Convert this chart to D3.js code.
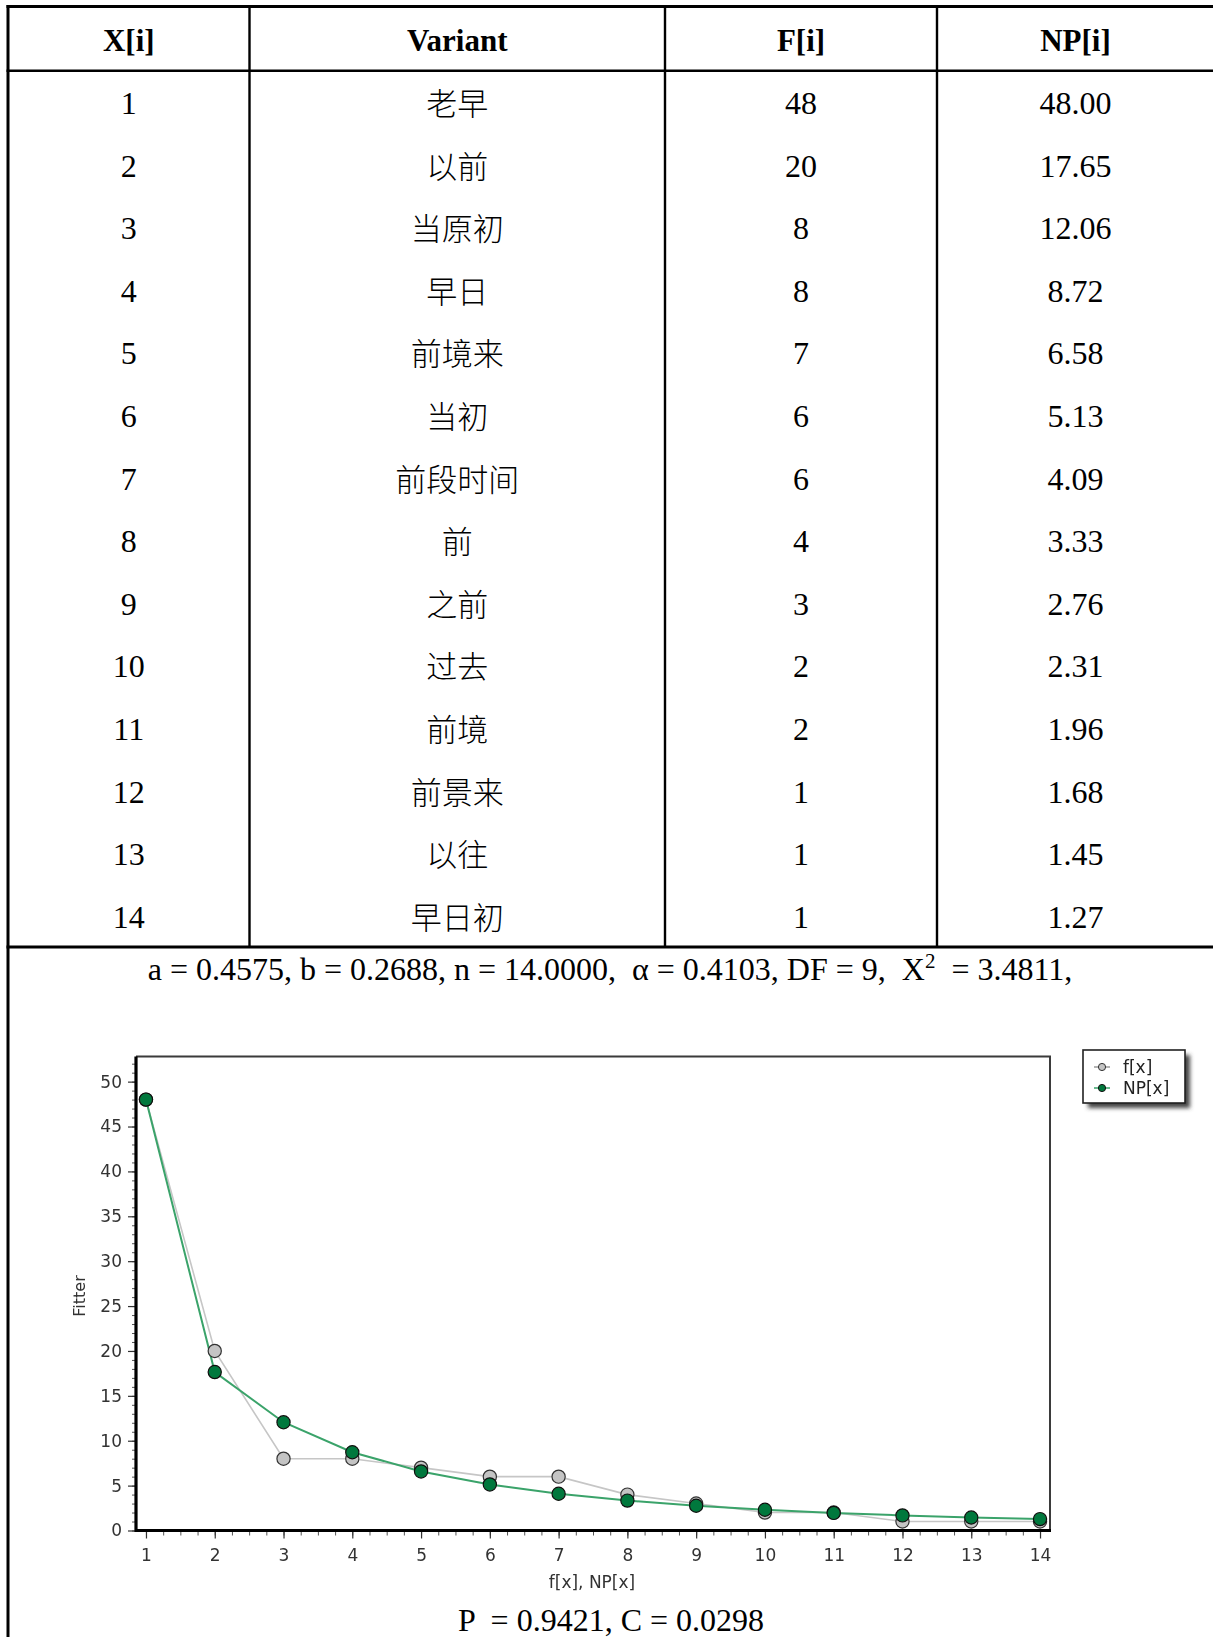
<!DOCTYPE html>
<html>
<head>
<meta charset="utf-8">
<script src="https://cdn.jsdelivr.net/npm/d3@7"></script>
<style>
  body { margin: 0; background: #fff; }
  svg { display: block; }
</style>
</head>
<body>
<svg id="fig" width="1213" height="1637"></svg>
<script>
// ---- data ----
const headers   = ["X[i]", "Variant", "F[i]", "NP[i]"];
const ranks     = [1, 2, 3, 4, 5, 6, 7, 8, 9, 10, 11, 12, 13, 14];
const variants  = ["老早", "以前", "当原初", "早日", "前境来", "当初", "前段时间", "前", "之前", "过去", "前境", "前景来", "以往", "早日初"];
const observed  = [48, 20, 8, 8, 7, 6, 6, 4, 3, 2, 2, 1, 1, 1];
const predicted = [48.00, 17.65, 12.06, 8.72, 6.58, 5.13, 4.09, 3.33, 2.76, 2.31, 1.96, 1.68, 1.45, 1.27];
const fitLine   = ["a = 0.4575, b = 0.2688, n = 14.0000,  α = 0.4103, DF = 9,  X", "2", "  = 3.4811,"];
const fitResult = "P  = 0.9421, C = 0.0298";
const yTicks    = [0, 5, 10, 15, 20, 25, 30, 35, 40, 45, 50];
const xTicks    = [1, 2, 3, 4, 5, 6, 7, 8, 9, 10, 11, 12, 13, 14];
const legendLabels = ["f[x]", "NP[x]"];
const xTitle = "f[x], NP[x]";
const yTitle = "Fitter";

const svg = d3.select("#fig");
const SERIF = "'Liberation Serif', 'Times New Roman', serif";
const CJK = "'Noto Sans CJK SC', sans-serif";
const SANS = "'DejaVu Sans', Verdana, sans-serif";

// ---- table ----
const colEdges = [8, 249.5, 665, 937, 1214];
const tableTop = 6.5, headBottom = 70.7, tableBottom = 947;
const rowY = d3.scaleBand().domain(ranks).range([headBottom, tableBottom]);
const colCenter = i => (colEdges[i] + colEdges[i + 1]) / 2;

const grid = svg.append("g").attr("stroke", "#000").attr("fill", "none");
// outer frame (continues down past the chart)
grid.append("line").attr("x1", 8).attr("x2", 8).attr("y1", tableTop - 1.5).attr("y2", 1640).attr("stroke-width", 3);
grid.append("line").attr("x1", 6.5).attr("x2", 1215).attr("y1", tableTop).attr("y2", tableTop).attr("stroke-width", 3);
grid.append("line").attr("x1", 6.5).attr("x2", 1215).attr("y1", headBottom).attr("y2", headBottom).attr("stroke-width", 2.6);
grid.append("line").attr("x1", 6.5).attr("x2", 1215).attr("y1", tableBottom).attr("y2", tableBottom).attr("stroke-width", 3);
colEdges.slice(1, 4).forEach(x => {
  grid.append("line").attr("x1", x).attr("x2", x).attr("y1", tableTop).attr("y2", tableBottom).attr("stroke-width", 2.4);
});

// header
svg.append("g").selectAll("text").data(headers).join("text")
  .attr("x", (d, i) => colCenter(i))
  .attr("y", (tableTop + headBottom) / 2 + 12)
  .attr("text-anchor", "middle")
  .style("font-family", SERIF).style("font-weight", "bold").style("font-size", "31px")
  .text(d => d);

// body rows
const rows = svg.append("g").selectAll("g").data(ranks).join("g")
  .attr("transform", d => `translate(0,${rowY(d) + rowY.bandwidth() / 2})`);
rows.append("text").attr("x", colCenter(0)).attr("y", 12).attr("text-anchor", "middle")
  .style("font-family", SERIF).style("font-size", "32px").text(d => d);
rows.append("text").attr("x", colCenter(1)).attr("y", 13).attr("text-anchor", "middle")
  .style("font-family", CJK).style("font-weight", 300).style("font-size", "31px")
  .text((d, i) => variants[i]);
rows.append("text").attr("x", colCenter(2)).attr("y", 12).attr("text-anchor", "middle")
  .style("font-family", SERIF).style("font-size", "32px").text((d, i) => observed[i]);
rows.append("text").attr("x", colCenter(3)).attr("y", 12).attr("text-anchor", "middle")
  .style("font-family", SERIF).style("font-size", "32px").text((d, i) => predicted[i].toFixed(2));

// fit parameters
const fit = svg.append("text").attr("x", 610).attr("y", 980).attr("text-anchor", "middle")
  .style("font-family", SERIF).style("font-size", "32px").style("white-space", "pre");
fit.append("tspan").text(fitLine[0]);
fit.append("tspan").attr("dy", -12).style("font-size", "21px").text(fitLine[1]);
fit.append("tspan").attr("dy", 12).text(fitLine[2]);

svg.append("text").attr("x", 611).attr("y", 1631).attr("text-anchor", "middle")
  .style("font-family", SERIF).style("font-size", "32px").style("white-space", "pre")
  .text(fitResult);

// ---- chart ----
const defs = svg.append("defs");
defs.append("filter").attr("id", "soft").append("feGaussianBlur").attr("stdDeviation", 0.45);
defs.append("filter").attr("id", "shadow").attr("x", "-20%").attr("y", "-20%").attr("width", "140%").attr("height", "140%")
  .append("feGaussianBlur").attr("stdDeviation", 2);

const plot = { left: 136, right: 1050, top: 1056.5, bottom: 1530.5 };
const x = d3.scaleLinear().domain([0.855, 14.145]).range([plot.left, plot.right]);
const y = d3.scaleLinear().domain([0, 52.8]).range([plot.bottom, plot.top]);

const chart = svg.append("g").attr("filter", "url(#soft)");

// top / right frame
chart.append("path")
  .attr("d", `M${plot.left},${plot.top}H${plot.right}V${plot.bottom}`)
  .attr("fill", "none").attr("stroke", "#3a3a3a").attr("stroke-width", 2);

// minor ticks
chart.append("g").attr("transform", `translate(${plot.left},0)`)
  .call(d3.axisLeft(y).tickValues(d3.range(0, 53, 1)).tickSize(4).tickFormat(""))
  .call(g => g.select(".domain").remove())
  .call(g => g.selectAll("line").attr("stroke", "#555"));
chart.append("g").attr("transform", `translate(0,${plot.bottom})`)
  .call(d3.axisBottom(x).tickValues(d3.range(1, 14.01, 0.25)).tickSize(5).tickFormat(""))
  .call(g => g.select(".domain").remove())
  .call(g => g.selectAll("line").attr("stroke", "#555"));

// major ticks + labels
const yAxis = chart.append("g").attr("transform", `translate(${plot.left},0)`)
  .call(d3.axisLeft(y).tickValues(yTicks).tickSize(8).tickPadding(6))
  .call(g => g.select(".domain").remove());
yAxis.selectAll("line").attr("stroke", "#333").attr("stroke-width", 1.2);
yAxis.selectAll("text").style("font-family", SANS).style("font-size", "17px").attr("fill", "#333");

const xAxis = chart.append("g").attr("transform", `translate(0,${plot.bottom})`)
  .call(d3.axisBottom(x).tickValues(xTicks).tickSize(8).tickPadding(10))
  .call(g => g.select(".domain").remove());
xAxis.selectAll("line").attr("stroke", "#333").attr("stroke-width", 1.2);
xAxis.selectAll("text").style("font-family", SANS).style("font-size", "17px").attr("fill", "#333");

// thick left / bottom axis lines
chart.append("path")
  .attr("d", `M${plot.left},${plot.top}V${plot.bottom}H${plot.right + 1}`)
  .attr("fill", "none").attr("stroke", "#000").attr("stroke-width", 3.2);

// axis titles
chart.append("text").attr("x", 592).attr("y", 1588).attr("text-anchor", "middle")
  .style("font-family", SANS).style("font-size", "17px").attr("fill", "#333").text(xTitle);
chart.append("text").attr("transform", "translate(85,1296) rotate(-90)").attr("text-anchor", "middle")
  .style("font-family", SANS).style("font-size", "16px").attr("fill", "#333").text(yTitle);

// series
const series = [
  { values: observed,  line: "#c6c6c6", lineWidth: 1.6, fill: "#c4c4c4", stroke: "#333" },
  { values: predicted, line: "#3aa36a", lineWidth: 2,   fill: "#06783c", stroke: "#111" }
];
const lineGen = d3.line().x((d, i) => x(ranks[i])).y(d => y(d));
series.forEach(s => {
  chart.append("path").datum(s.values).attr("d", lineGen)
    .attr("fill", "none").attr("stroke", s.line).attr("stroke-width", s.lineWidth);
});
series.forEach(s => {
  chart.append("g").selectAll("circle").data(s.values).join("circle")
    .attr("cx", (d, i) => x(ranks[i])).attr("cy", d => y(d)).attr("r", 6.6)
    .attr("fill", s.fill).attr("stroke", s.stroke).attr("stroke-width", 1.2);
});

// legend
const lg = chart.append("g").attr("transform", "translate(1083,1050)");
lg.append("rect").attr("x", 5).attr("y", 5).attr("width", 102).attr("height", 53)
  .attr("fill", "#444").attr("filter", "url(#shadow)");
lg.append("rect").attr("width", 102).attr("height", 53)
  .attr("fill", "#fff").attr("stroke", "#222").attr("stroke-width", 1.6);
legendLabels.forEach((lab, i) => {
  const s = series[i];
  const cy = 17 + i * 21;
  lg.append("line").attr("x1", 11).attr("x2", 27).attr("y1", cy).attr("y2", cy)
    .attr("stroke", i === 0 ? "#999" : s.line).attr("stroke-width", 1.5);
  lg.append("circle").attr("cx", 19).attr("cy", cy).attr("r", 3.6)
    .attr("fill", s.fill).attr("stroke", s.stroke).attr("stroke-width", 1);
  lg.append("text").attr("x", 40).attr("y", cy + 6)
    .style("font-family", SANS).style("font-size", "17px").attr("fill", "#222").text(lab);
});
</script>
</body>
</html>
